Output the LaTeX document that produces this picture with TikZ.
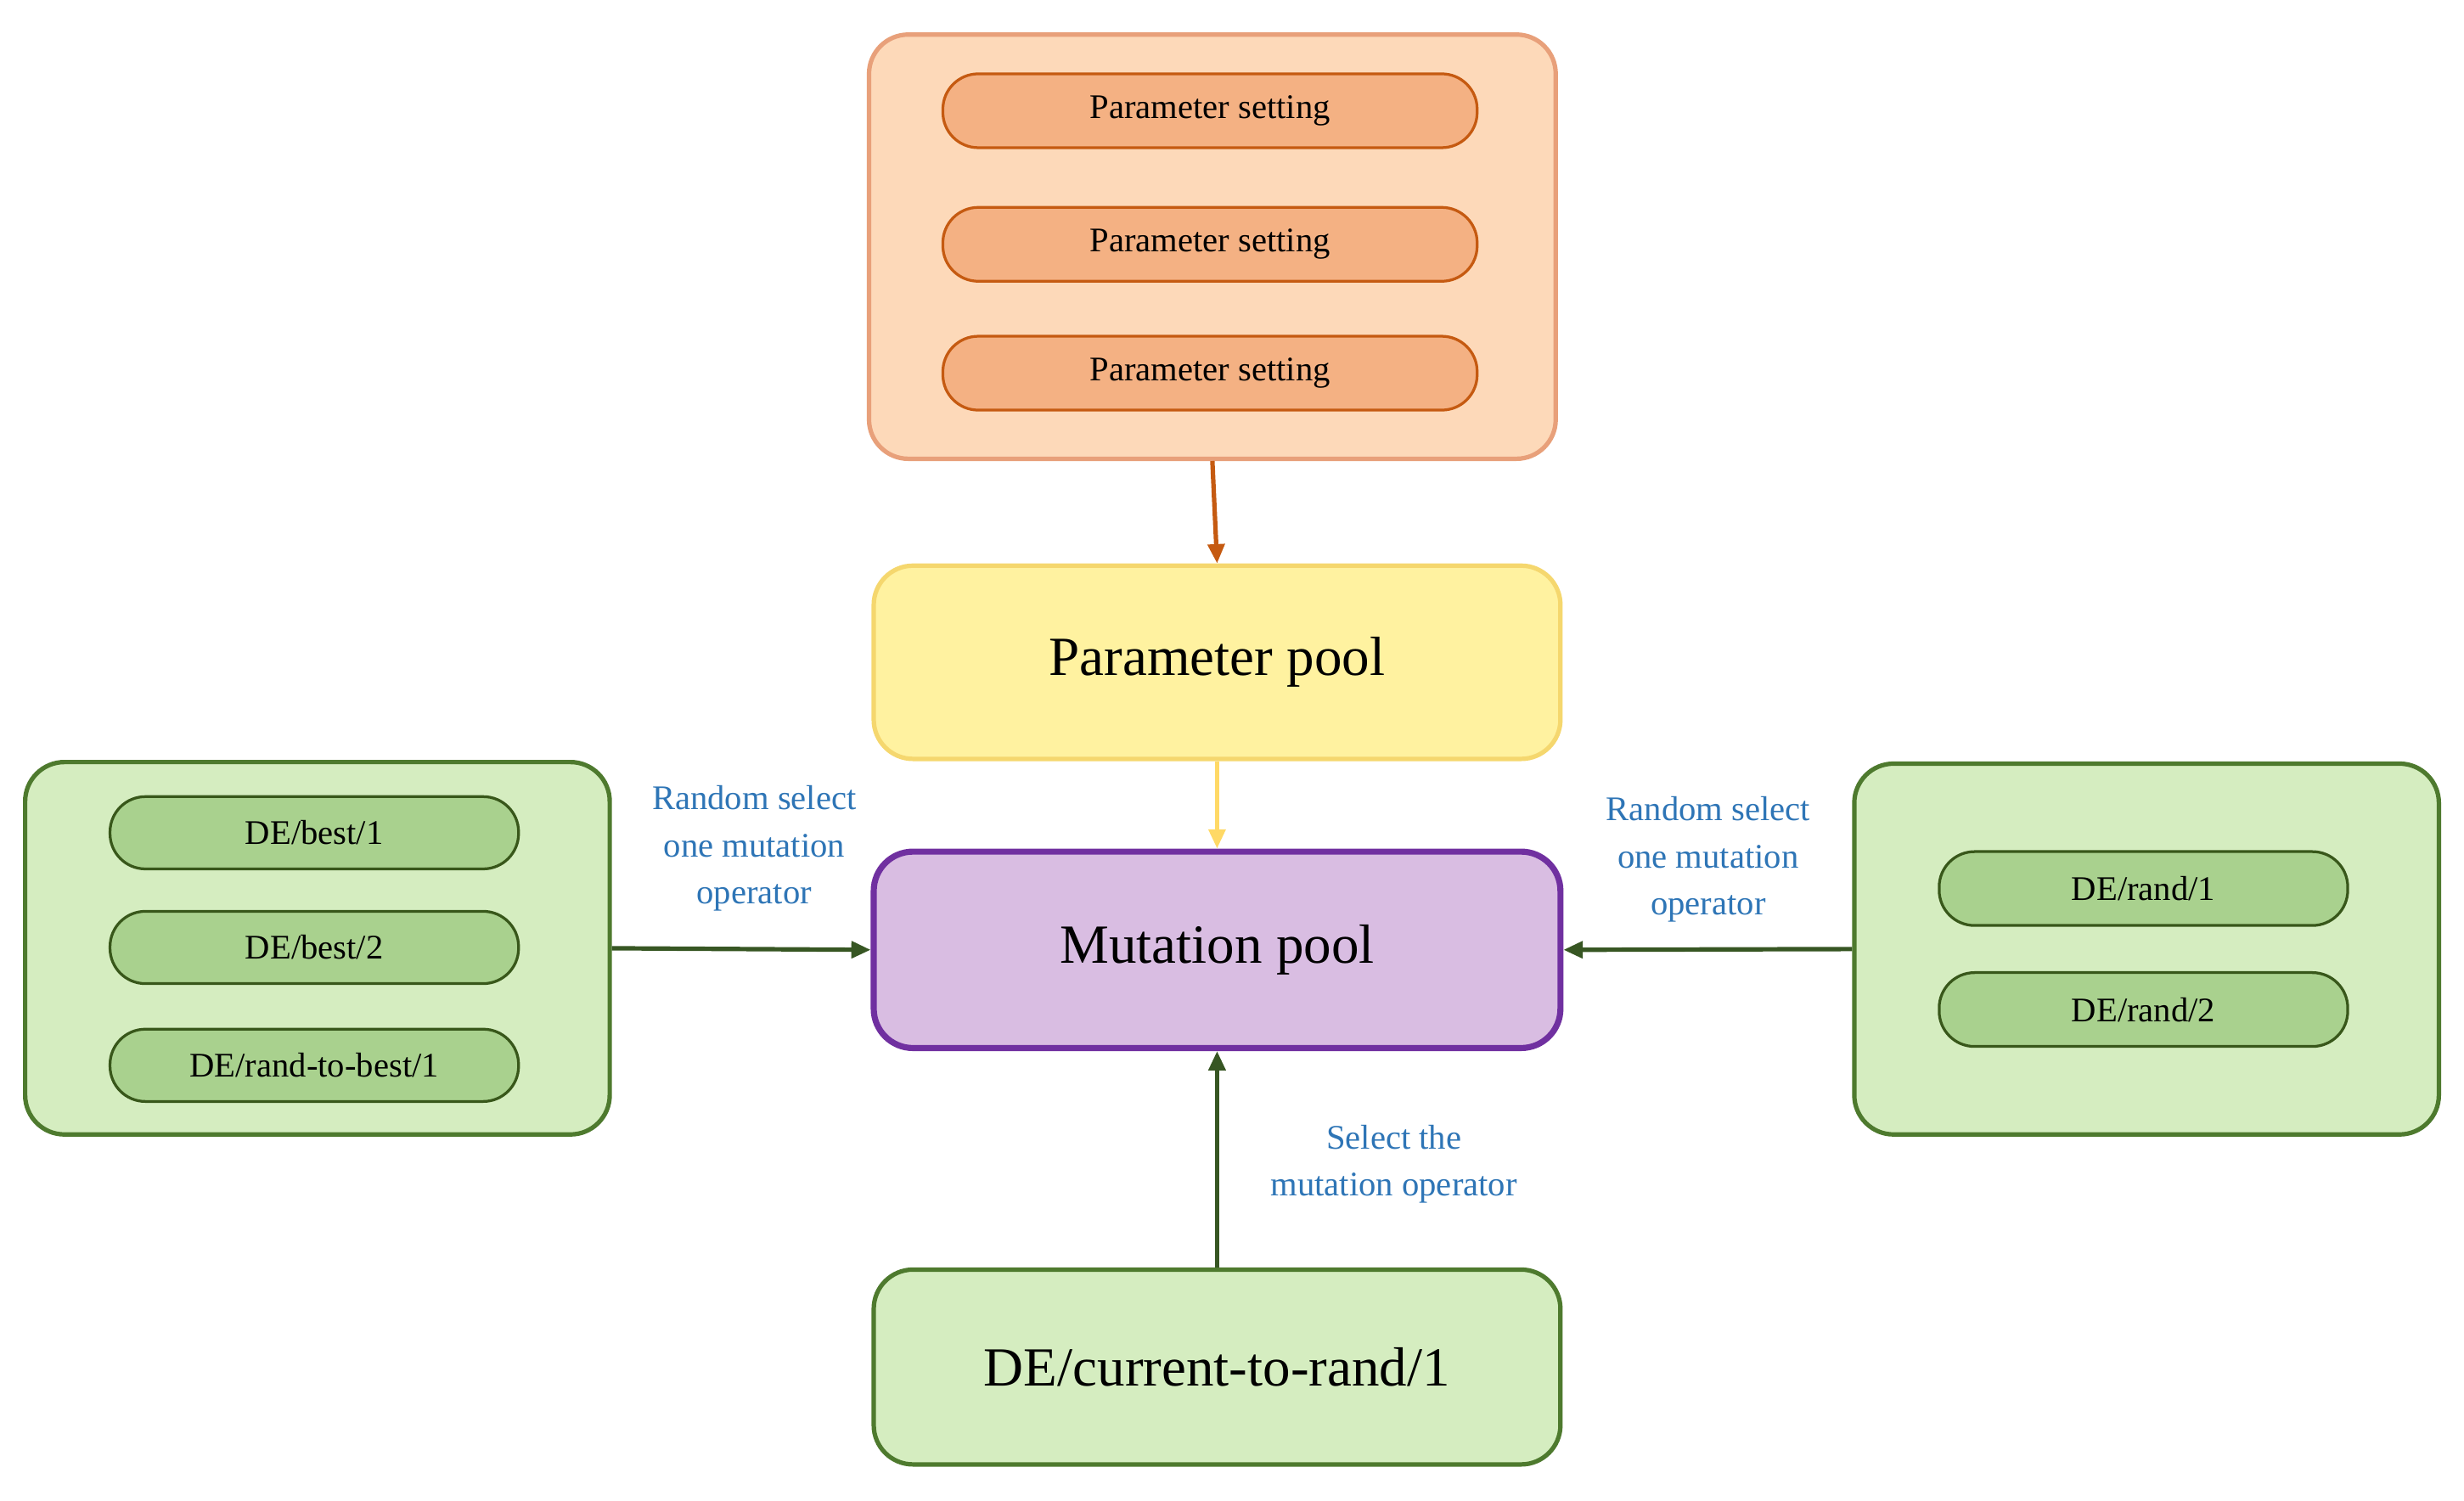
\documentclass[tikz,border=0pt]{standalone}
\usepackage{fontspec}
\setmainfont{Liberation Serif}
\usetikzlibrary{arrows.meta}
\definecolor{orfill}{HTML}{FDD9B9}\definecolor{ordraw}{HTML}{E8A07A}
\definecolor{opfill}{HTML}{F4B183}\definecolor{opdraw}{HTML}{C55A11}
\definecolor{yfill}{HTML}{FFF2A0}\definecolor{ydraw}{HTML}{F5D76E}\definecolor{yarr}{HTML}{FFD966}
\definecolor{pfill}{HTML}{D9BDE2}\definecolor{pdraw}{HTML}{7030A0}
\definecolor{gfill}{HTML}{D5EDC0}\definecolor{gdraw}{HTML}{4E7A2E}
\definecolor{gpfill}{HTML}{A9D18E}\definecolor{gpdraw}{HTML}{38571A}
\definecolor{garr}{HTML}{375623}\definecolor{lbl}{HTML}{2E75B6}
\begin{document}
\begin{tikzpicture}[x=0.02cm,y=-0.02cm,
 box/.style={rounded corners=0.5cm,line width=1.6pt,inner sep=0pt},
 pill/.style={rounded corners=0.45cm,line width=1pt,inner sep=0pt,font=\fontsize{12.5}{14}\selectfont},
 big/.style={font=\fontsize{20}{24}\selectfont},
 lab/.style={text=lbl,align=center,font=\fontsize{12.5}{17}\selectfont},
 arr/.style={-{Triangle[length=7pt,width=6pt]},line width=1.6pt}]
\useasboundingbox (0,0) rectangle (1568,955);
% top orange
\node[box,draw=ordraw,fill=orfill,minimum width=437*0.02cm,minimum height=270*0.02cm] (top) at (771.5,157) {};
\foreach \y/\n in {70.5/p1,155.5/p2,237.5/p3}
  \node[pill,draw=opdraw,fill=opfill,minimum width=340*0.02cm,minimum height=47*0.02cm] (\n) at (770,\y) {Parameter setting};
% parameter pool
\node[box,big,draw=ydraw,fill=yfill,minimum width=437*0.02cm,minimum height=123*0.02cm] (pp) at (774.5,421.5) {Parameter pool};
% mutation pool
\node[box,big,draw=pdraw,fill=pfill,line width=2.2pt,minimum width=437*0.02cm,minimum height=125*0.02cm] (mp) at (774.5,604.5) {Mutation pool};
% bottom
\node[box,big,draw=gdraw,fill=gfill,minimum width=437*0.02cm,minimum height=124*0.02cm] (bot) at (774.5,870) {DE/current-to-rand/1};
% left
\node[box,draw=gdraw,fill=gfill,minimum width=372*0.02cm,minimum height=237*0.02cm] (left) at (202,603.5) {};
\foreach \y/\t/\n in {530/DE\slash best\slash 1/l1,603/DE\slash best\slash 2/l2,678/DE\slash rand-to-best\slash 1/l3}
  \node[pill,draw=gpdraw,fill=gpfill,minimum width=260*0.02cm,minimum height=46*0.02cm] (\n) at (200,\y) {\t};
% right
\node[box,draw=gdraw,fill=gfill,minimum width=372*0.02cm,minimum height=236*0.02cm] (right) at (1366,604) {};
\foreach \y/\t/\n in {565.5/DE\slash rand\slash 1/r1,642.5/DE\slash rand\slash 2/r2}
  \node[pill,draw=gpdraw,fill=gpfill,minimum width=260*0.02cm,minimum height=47*0.02cm] (\n) at (1364,\y) {\t};
% arrows
\draw[arr,draw=opdraw,fill=opdraw] (top.south) -- (pp.north);
\draw[arr,draw=yarr,fill=yarr] (pp.south) -- (mp.north);
\draw[arr,draw=garr,fill=garr] (left.east) -- (mp.west);
\draw[arr,draw=garr,fill=garr] (right.west) -- (mp.east);
\draw[arr,draw=garr,fill=garr] (bot.north) -- (mp.south);
% labels
\node[lab] (la) at (480,540) {Random select\\one mutation\\operator};
\node[lab] (lb) at (1087,547) {Random select\\one mutation\\operator};
\node[lab] (lc) at (887,741) {Select the\\mutation operator};
\end{tikzpicture}
\end{document}
